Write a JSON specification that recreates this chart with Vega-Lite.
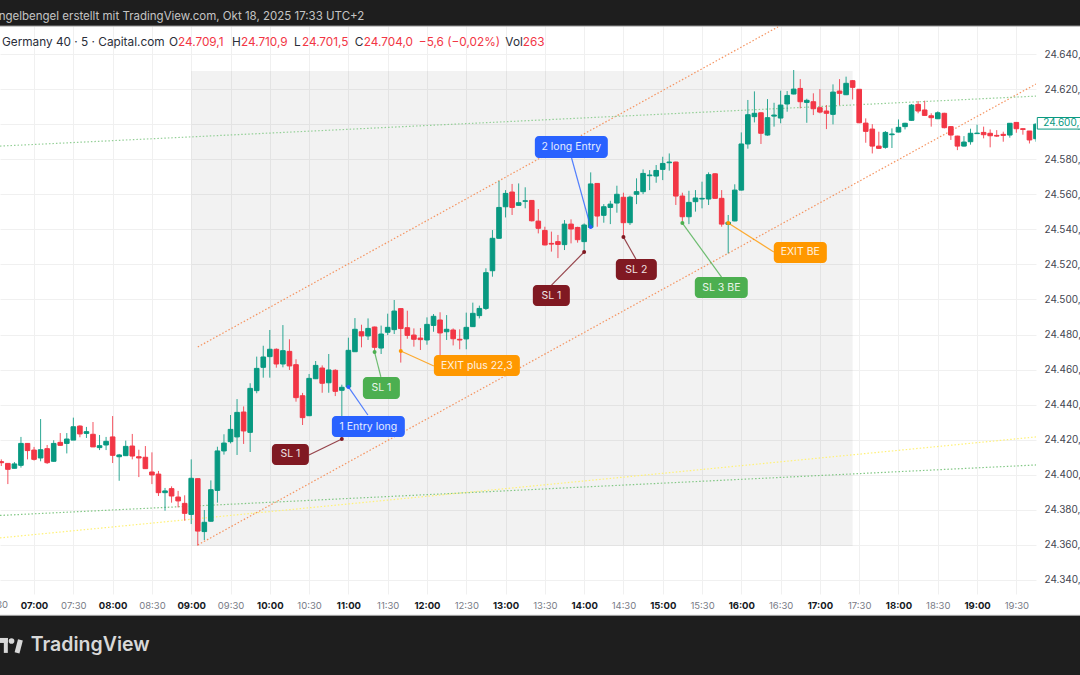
{
  "$schema": "https://vega.github.io/schema/vega-lite/v6.json",
  "width": 1036,
  "height": 568,
  "autosize": "none",
  "padding": {"left": 0, "top": 26, "right": 44, "bottom": 81},
  "background": "#ffffff",
  "config": {"view": {"stroke": null}, "font": "Inter"},
  "resolve": {"axis": {"x": "independent", "y": "independent"}},
  "datasets": {
    "candles": [
      {"time":"2025-10-17T06:35:00Z","open":24407.5,"high":24408.8,"low":24405.0,"close":24406.9},
      {"time":"2025-10-17T06:40:00Z","open":24406.5,"high":24406.5,"low":24394.7,"close":24403.1},
      {"time":"2025-10-17T06:45:00Z","open":24403.7,"high":24407.3,"low":24403.7,"close":24406.2},
      {"time":"2025-10-17T06:50:00Z","open":24405.4,"high":24421.6,"low":24404.1,"close":24417.9},
      {"time":"2025-10-17T06:55:00Z","open":24417.9,"high":24417.9,"low":24408.8,"close":24413.8},
      {"time":"2025-10-17T07:00:00Z","open":24414.1,"high":24415.9,"low":24408.1,"close":24408.8},
      {"time":"2025-10-17T07:05:00Z","open":24409.6,"high":24431.8,"low":24407.7,"close":24414.3},
      {"time":"2025-10-17T07:10:00Z","open":24414.9,"high":24417.0,"low":24406.2,"close":24406.9},
      {"time":"2025-10-17T07:15:00Z","open":24407.7,"high":24419.7,"low":24407.5,"close":24417.9},
      {"time":"2025-10-17T07:20:00Z","open":24418.5,"high":24423.8,"low":24416.6,"close":24416.8},
      {"time":"2025-10-17T07:25:00Z","open":24417.9,"high":24423.8,"low":24412.2,"close":24420.4},
      {"time":"2025-10-17T07:30:00Z","open":24419.8,"high":24432.6,"low":24419.8,"close":24427.4},
      {"time":"2025-10-17T07:35:00Z","open":24427.8,"high":24428.2,"low":24421.4,"close":24423.3},
      {"time":"2025-10-17T07:40:00Z","open":24423.6,"high":24427.3,"low":24421.0,"close":24424.6},
      {"time":"2025-10-17T07:45:00Z","open":24423.1,"high":24430.1,"low":24415.9,"close":24415.9},
      {"time":"2025-10-17T07:50:00Z","open":24415.5,"high":24422.7,"low":24414.1,"close":24416.6},
      {"time":"2025-10-17T07:55:00Z","open":24417.0,"high":24421.6,"low":24414.1,"close":24419.1},
      {"time":"2025-10-17T08:00:00Z","open":24421.6,"high":24433.5,"low":24406.7,"close":24411.1},
      {"time":"2025-10-17T08:05:00Z","open":24410.3,"high":24411.9,"low":24396.6,"close":24411.3},
      {"time":"2025-10-17T08:10:00Z","open":24410.9,"high":24419.5,"low":24410.7,"close":24416.2},
      {"time":"2025-10-17T08:15:00Z","open":24416.4,"high":24423.3,"low":24408.8,"close":24410.7},
      {"time":"2025-10-17T08:20:00Z","open":24410.3,"high":24414.3,"low":24398.7,"close":24409.6},
      {"time":"2025-10-17T08:25:00Z","open":24410.0,"high":24416.4,"low":24403.3,"close":24403.5},
      {"time":"2025-10-17T08:30:00Z","open":24401.6,"high":24412.8,"low":24394.7,"close":24399.9},
      {"time":"2025-10-17T08:35:00Z","open":24400.4,"high":24402.2,"low":24387.9,"close":24389.8},
      {"time":"2025-10-17T08:40:00Z","open":24389.8,"high":24392.5,"low":24379.5,"close":24390.8},
      {"time":"2025-10-17T08:45:00Z","open":24392.1,"high":24393.4,"low":24384.1,"close":24387.9},
      {"time":"2025-10-17T08:50:00Z","open":24387.3,"high":24390.8,"low":24381.4,"close":24385.1},
      {"time":"2025-10-17T08:55:00Z","open":24383.7,"high":24388.3,"low":24373.8,"close":24378.0},
      {"time":"2025-10-17T09:00:00Z","open":24377.4,"high":24408.8,"low":24371.9,"close":24398.0},
      {"time":"2025-10-17T09:05:00Z","open":24397.8,"high":24397.8,"low":24359.6,"close":24367.9},
      {"time":"2025-10-17T09:10:00Z","open":24367.6,"high":24379.9,"low":24362.8,"close":24372.9},
      {"time":"2025-10-17T09:15:00Z","open":24373.5,"high":24396.8,"low":24373.3,"close":24391.5},
      {"time":"2025-10-17T09:20:00Z","open":24391.1,"high":24416.0,"low":24384.1,"close":24413.6},
      {"time":"2025-10-17T09:25:00Z","open":24413.6,"high":24423.1,"low":24411.5,"close":24418.1},
      {"time":"2025-10-17T09:30:00Z","open":24418.9,"high":24434.1,"low":24417.9,"close":24425.9},
      {"time":"2025-10-17T09:35:00Z","open":24421.6,"high":24443.2,"low":24411.3,"close":24435.6},
      {"time":"2025-10-17T09:40:00Z","open":24435.8,"high":24439.0,"low":24417.6,"close":24425.0},
      {"time":"2025-10-17T09:45:00Z","open":24424.2,"high":24452.2,"low":24413.0,"close":24449.3},
      {"time":"2025-10-17T09:50:00Z","open":24448.0,"high":24467.4,"low":24446.5,"close":24460.7},
      {"time":"2025-10-17T09:55:00Z","open":24461.3,"high":24473.6,"low":24455.4,"close":24467.2},
      {"time":"2025-10-17T10:00:00Z","open":24467.4,"high":24482.6,"low":24455.4,"close":24471.6},
      {"time":"2025-10-17T10:05:00Z","open":24471.6,"high":24472.1,"low":24461.1,"close":24463.2},
      {"time":"2025-10-17T10:10:00Z","open":24463.2,"high":24485.4,"low":24461.3,"close":24470.8},
      {"time":"2025-10-17T10:15:00Z","open":24470.4,"high":24477.3,"low":24459.8,"close":24462.1},
      {"time":"2025-10-17T10:20:00Z","open":24462.8,"high":24465.9,"low":24441.7,"close":24444.0},
      {"time":"2025-10-17T10:25:00Z","open":24445.1,"high":24446.7,"low":24428.4,"close":24432.6},
      {"time":"2025-10-17T10:30:00Z","open":24433.7,"high":24457.5,"low":24433.5,"close":24455.0},
      {"time":"2025-10-17T10:35:00Z","open":24454.8,"high":24464.9,"low":24454.6,"close":24462.4},
      {"time":"2025-10-17T10:40:00Z","open":24460.9,"high":24462.4,"low":24446.8,"close":24452.2},
      {"time":"2025-10-17T10:45:00Z","open":24452.5,"high":24468.9,"low":24446.8,"close":24459.8},
      {"time":"2025-10-17T10:50:00Z","open":24459.6,"high":24460.2,"low":24444.9,"close":24447.6},
      {"time":"2025-10-17T10:55:00Z","open":24448.2,"high":24451.4,"low":24420.4,"close":24449.9},
      {"time":"2025-10-17T11:00:00Z","open":24450.1,"high":24478.2,"low":24449.9,"close":24471.0},
      {"time":"2025-10-17T11:05:00Z","open":24470.2,"high":24489.4,"low":24470.2,"close":24483.0},
      {"time":"2025-10-17T11:10:00Z","open":24481.6,"high":24485.6,"low":24472.7,"close":24479.2},
      {"time":"2025-10-17T11:15:00Z","open":24479.2,"high":24489.2,"low":24476.9,"close":24483.5},
      {"time":"2025-10-17T11:20:00Z","open":24484.3,"high":24484.5,"low":24469.7,"close":24472.7},
      {"time":"2025-10-17T11:25:00Z","open":24472.3,"high":24485.1,"low":24468.9,"close":24480.3},
      {"time":"2025-10-17T11:30:00Z","open":24481.3,"high":24491.9,"low":24479.7,"close":24484.1},
      {"time":"2025-10-17T11:35:00Z","open":24482.8,"high":24499.7,"low":24480.3,"close":24493.4},
      {"time":"2025-10-17T11:40:00Z","open":24494.8,"high":24494.8,"low":24464.0,"close":24483.4},
      {"time":"2025-10-17T11:45:00Z","open":24483.9,"high":24493.6,"low":24477.6,"close":24479.5},
      {"time":"2025-10-17T11:50:00Z","open":24479.7,"high":24483.5,"low":24473.1,"close":24477.3},
      {"time":"2025-10-17T11:55:00Z","open":24478.0,"high":24483.7,"low":24471.2,"close":24477.1},
      {"time":"2025-10-17T12:00:00Z","open":24476.9,"high":24489.8,"low":24474.2,"close":24485.8},
      {"time":"2025-10-17T12:05:00Z","open":24485.2,"high":24491.7,"low":24481.6,"close":24490.4},
      {"time":"2025-10-17T12:10:00Z","open":24488.3,"high":24492.7,"low":24466.4,"close":24480.9},
      {"time":"2025-10-17T12:15:00Z","open":24481.6,"high":24491.1,"low":24476.9,"close":24483.0},
      {"time":"2025-10-17T12:20:00Z","open":24482.6,"high":24483.5,"low":24473.8,"close":24477.6},
      {"time":"2025-10-17T12:25:00Z","open":24477.3,"high":24483.0,"low":24471.6,"close":24476.9},
      {"time":"2025-10-17T12:30:00Z","open":24477.5,"high":24492.5,"low":24471.6,"close":24484.1},
      {"time":"2025-10-17T12:35:00Z","open":24484.5,"high":24498.2,"low":24484.3,"close":24492.1},
      {"time":"2025-10-17T12:40:00Z","open":24490.8,"high":24496.5,"low":24489.2,"close":24494.9},
      {"time":"2025-10-17T12:45:00Z","open":24494.9,"high":24517.8,"low":24494.0,"close":24515.3},
      {"time":"2025-10-17T12:50:00Z","open":24516.4,"high":24539.6,"low":24513.0,"close":24534.9},
      {"time":"2025-10-17T12:55:00Z","open":24534.9,"high":24567.6,"low":24534.7,"close":24552.5},
      {"time":"2025-10-17T13:00:00Z","open":24552.9,"high":24562.4,"low":24546.8,"close":24560.5},
      {"time":"2025-10-17T13:05:00Z","open":24561.3,"high":24565.9,"low":24548.2,"close":24552.5},
      {"time":"2025-10-17T13:10:00Z","open":24553.7,"high":24566.2,"low":24553.5,"close":24555.2},
      {"time":"2025-10-17T13:15:00Z","open":24556.0,"high":24564.0,"low":24552.0,"close":24556.3},
      {"time":"2025-10-17T13:20:00Z","open":24556.5,"high":24556.7,"low":24544.5,"close":24544.9},
      {"time":"2025-10-17T13:25:00Z","open":24544.7,"high":24551.6,"low":24537.7,"close":24540.6},
      {"time":"2025-10-17T13:30:00Z","open":24539.4,"high":24541.5,"low":24530.9,"close":24531.1},
      {"time":"2025-10-17T13:35:00Z","open":24532.0,"high":24538.7,"low":24527.3,"close":24531.6},
      {"time":"2025-10-17T13:40:00Z","open":24533.0,"high":24536.8,"low":24523.6,"close":24531.4},
      {"time":"2025-10-17T13:45:00Z","open":24531.3,"high":24545.3,"low":24528.2,"close":24543.0},
      {"time":"2025-10-17T13:50:00Z","open":24543.0,"high":24545.7,"low":24532.0,"close":24540.2},
      {"time":"2025-10-17T13:55:00Z","open":24541.1,"high":24541.5,"low":24532.4,"close":24534.1},
      {"time":"2025-10-17T14:00:00Z","open":24533.0,"high":24543.4,"low":24527.1,"close":24542.5},
      {"time":"2025-10-17T14:05:00Z","open":24541.1,"high":24572.5,"low":24540.9,"close":24565.9},
      {"time":"2025-10-17T14:10:00Z","open":24566.2,"high":24566.2,"low":24541.5,"close":24547.6},
      {"time":"2025-10-17T14:15:00Z","open":24548.0,"high":24554.4,"low":24543.8,"close":24552.9},
      {"time":"2025-10-17T14:20:00Z","open":24552.5,"high":24556.3,"low":24543.0,"close":24554.4},
      {"time":"2025-10-17T14:25:00Z","open":24555.0,"high":24564.9,"low":24549.5,"close":24560.0},
      {"time":"2025-10-17T14:30:00Z","open":24558.3,"high":24560.9,"low":24535.8,"close":24543.8},
      {"time":"2025-10-17T14:35:00Z","open":24543.8,"high":24559.2,"low":24542.5,"close":24558.4},
      {"time":"2025-10-17T14:40:00Z","open":24560.0,"high":24569.1,"low":24554.4,"close":24561.5},
      {"time":"2025-10-17T14:45:00Z","open":24561.5,"high":24574.2,"low":24560.1,"close":24571.9},
      {"time":"2025-10-17T14:50:00Z","open":24570.6,"high":24573.8,"low":24562.4,"close":24571.0},
      {"time":"2025-10-17T14:55:00Z","open":24570.4,"high":24576.7,"low":24566.6,"close":24573.6},
      {"time":"2025-10-17T15:00:00Z","open":24574.2,"high":24581.4,"low":24568.1,"close":24577.6},
      {"time":"2025-10-17T15:05:00Z","open":24578.0,"high":24583.3,"low":24573.5,"close":24578.4},
      {"time":"2025-10-17T15:10:00Z","open":24578.4,"high":24578.6,"low":24553.9,"close":24559.0},
      {"time":"2025-10-17T15:15:00Z","open":24559.0,"high":24560.9,"low":24543.8,"close":24547.2},
      {"time":"2025-10-17T15:20:00Z","open":24547.2,"high":24562.0,"low":24543.0,"close":24555.4},
      {"time":"2025-10-17T15:25:00Z","open":24555.8,"high":24562.4,"low":24550.1,"close":24557.9},
      {"time":"2025-10-17T15:30:00Z","open":24557.3,"high":24567.2,"low":24552.0,"close":24557.7},
      {"time":"2025-10-17T15:35:00Z","open":24557.3,"high":24572.5,"low":24553.9,"close":24571.2},
      {"time":"2025-10-17T15:40:00Z","open":24571.7,"high":24572.0,"low":24557.5,"close":24557.7},
      {"time":"2025-10-17T15:45:00Z","open":24557.7,"high":24562.4,"low":24541.5,"close":24543.0},
      {"time":"2025-10-17T15:50:00Z","open":24542.9,"high":24548.2,"low":24526.3,"close":24544.0},
      {"time":"2025-10-17T15:55:00Z","open":24544.8,"high":24565.7,"low":24544.6,"close":24562.4},
      {"time":"2025-10-17T16:00:00Z","open":24562.4,"high":24595.3,"low":24562.2,"close":24588.7},
      {"time":"2025-10-17T16:05:00Z","open":24588.7,"high":24613.8,"low":24586.0,"close":24605.4},
      {"time":"2025-10-17T16:10:00Z","open":24604.3,"high":24618.7,"low":24601.0,"close":24606.2},
      {"time":"2025-10-17T16:15:00Z","open":24606.5,"high":24606.7,"low":24588.7,"close":24594.8},
      {"time":"2025-10-17T16:20:00Z","open":24593.8,"high":24614.3,"low":24593.4,"close":24603.7},
      {"time":"2025-10-17T16:25:00Z","open":24604.6,"high":24612.2,"low":24598.6,"close":24605.2},
      {"time":"2025-10-17T16:30:00Z","open":24603.5,"high":24619.1,"low":24600.5,"close":24610.9},
      {"time":"2025-10-17T16:35:00Z","open":24611.5,"high":24618.9,"low":24607.1,"close":24616.4},
      {"time":"2025-10-17T16:40:00Z","open":24617.2,"high":24630.9,"low":24617.0,"close":24620.0},
      {"time":"2025-10-17T16:45:00Z","open":24620.4,"high":24625.7,"low":24609.0,"close":24612.8},
      {"time":"2025-10-17T16:50:00Z","open":24612.4,"high":24614.5,"low":24600.8,"close":24613.6},
      {"time":"2025-10-17T16:55:00Z","open":24612.8,"high":24617.6,"low":24605.2,"close":24608.8},
      {"time":"2025-10-17T17:00:00Z","open":24609.4,"high":24620.0,"low":24606.2,"close":24606.9},
      {"time":"2025-10-17T17:05:00Z","open":24607.5,"high":24610.9,"low":24597.2,"close":24606.2},
      {"time":"2025-10-17T17:10:00Z","open":24605.6,"high":24622.7,"low":24599.9,"close":24618.3},
      {"time":"2025-10-17T17:15:00Z","open":24618.9,"high":24625.7,"low":24610.9,"close":24617.6},
      {"time":"2025-10-17T17:20:00Z","open":24616.8,"high":24627.1,"low":24616.6,"close":24623.3},
      {"time":"2025-10-17T17:25:00Z","open":24624.8,"high":24625.2,"low":24614.1,"close":24621.0},
      {"time":"2025-10-17T17:30:00Z","open":24619.9,"high":24619.9,"low":24600.6,"close":24600.8},
      {"time":"2025-10-17T17:35:00Z","open":24600.6,"high":24603.3,"low":24589.4,"close":24595.9},
      {"time":"2025-10-17T17:40:00Z","open":24597.2,"high":24600.0,"low":24583.3,"close":24587.5},
      {"time":"2025-10-17T17:45:00Z","open":24587.5,"high":24595.7,"low":24586.0,"close":24586.2},
      {"time":"2025-10-17T17:50:00Z","open":24586.8,"high":24596.1,"low":24586.0,"close":24595.3},
      {"time":"2025-10-17T17:55:00Z","open":24594.0,"high":24597.6,"low":24586.4,"close":24594.4},
      {"time":"2025-10-17T18:00:00Z","open":24595.5,"high":24602.7,"low":24595.3,"close":24598.2},
      {"time":"2025-10-17T18:05:00Z","open":24598.6,"high":24600.8,"low":24597.0,"close":24600.5},
      {"time":"2025-10-17T18:10:00Z","open":24602.2,"high":24611.5,"low":24602.0,"close":24610.9},
      {"time":"2025-10-17T18:15:00Z","open":24611.3,"high":24613.2,"low":24606.2,"close":24607.5},
      {"time":"2025-10-17T18:20:00Z","open":24608.1,"high":24613.4,"low":24604.8,"close":24605.0},
      {"time":"2025-10-17T18:25:00Z","open":24604.8,"high":24606.2,"low":24598.6,"close":24603.7},
      {"time":"2025-10-17T18:30:00Z","open":24603.1,"high":24607.3,"low":24602.9,"close":24606.5},
      {"time":"2025-10-17T18:35:00Z","open":24606.2,"high":24606.5,"low":24597.6,"close":24598.0},
      {"time":"2025-10-17T18:40:00Z","open":24598.6,"high":24598.9,"low":24591.0,"close":24593.8},
      {"time":"2025-10-17T18:45:00Z","open":24593.2,"high":24593.4,"low":24585.2,"close":24587.5},
      {"time":"2025-10-17T18:50:00Z","open":24587.5,"high":24593.2,"low":24587.3,"close":24589.8},
      {"time":"2025-10-17T18:55:00Z","open":24590.0,"high":24597.4,"low":24588.3,"close":24594.8},
      {"time":"2025-10-17T19:00:00Z","open":24594.6,"high":24599.7,"low":24594.4,"close":24594.9},
      {"time":"2025-10-17T19:05:00Z","open":24595.3,"high":24598.6,"low":24591.9,"close":24594.0},
      {"time":"2025-10-17T19:10:00Z","open":24594.8,"high":24597.0,"low":24586.8,"close":24593.4},
      {"time":"2025-10-17T19:15:00Z","open":24593.6,"high":24596.6,"low":24592.8,"close":24593.2},
      {"time":"2025-10-17T19:20:00Z","open":24594.2,"high":24595.7,"low":24590.0,"close":24593.6},
      {"time":"2025-10-17T19:25:00Z","open":24593.8,"high":24600.6,"low":24592.3,"close":24600.5},
      {"time":"2025-10-17T19:30:00Z","open":24601.0,"high":24601.2,"low":24595.1,"close":24597.4},
      {"time":"2025-10-17T19:35:00Z","open":24597.4,"high":24597.6,"low":24594.0,"close":24597.0},
      {"time":"2025-10-17T19:40:00Z","open":24596.1,"high":24596.1,"low":24589.0,"close":24591.0},
      {"time":"2025-10-17T19:45:00Z","open":24591.7,"high":24600.5,"low":24590.0,"close":24600.0}
    ],
    "lines": [
      {"name":"channel top","time":"2025-10-17T09:05:00Z","price":24472.9},
      {"name":"channel top","time":"2025-10-17T16:28:00Z","price":24655.5},
      {"name":"channel bottom","time":"2025-10-17T09:05:00Z","price":24360.0},
      {"name":"channel bottom","time":"2025-10-17T19:45:00Z","price":24622.9},
      {"name":"green upper","time":"2025-10-17T06:34:00Z","price":24587.5},
      {"name":"green upper","time":"2025-10-17T19:45:00Z","price":24616.0},
      {"name":"green lower","time":"2025-10-17T06:34:00Z","price":24376.8},
      {"name":"green lower","time":"2025-10-17T19:45:00Z","price":24405.6},
      {"name":"yellow","time":"2025-10-17T06:34:00Z","price":24364.0},
      {"name":"yellow","time":"2025-10-17T19:45:00Z","price":24421.6}
    ],
    "notes": [
      {"label":"SL 1","kind":"loss","fromTime":"2025-10-17T10:29:51Z","fromPrice":24411.3,"toTime":"2025-10-17T10:55:00Z","toPrice":24420.4,"boxStart":"2025-10-17T10:01:36Z","boxEnd":"2025-10-17T10:29:51Z","boxLow":24405.6,"boxHigh":24417.6,"textTime":"2025-10-17T10:15:44Z","textPrice":24411.6},
      {"label":"1 Entry long","kind":"entry","fromTime":"2025-10-17T11:14:53Z","fromPrice":24434.1,"toTime":"2025-10-17T11:00:00Z","toPrice":24450.1,"boxStart":"2025-10-17T10:47:24Z","boxEnd":"2025-10-17T11:43:06Z","boxLow":24421.6,"boxHigh":24433.5,"textTime":"2025-10-17T11:15:16Z","textPrice":24427.5},
      {"label":"SL 1","kind":"stop","fromTime":"2025-10-17T11:24:48Z","fromPrice":24455.8,"toTime":"2025-10-17T11:20:00Z","toPrice":24470.0,"boxStart":"2025-10-17T11:11:04Z","boxEnd":"2025-10-17T11:39:19Z","boxLow":24443.2,"boxHigh":24455.8,"textTime":"2025-10-17T11:25:11Z","textPrice":24449.5},
      {"label":"EXIT plus 22,3","kind":"exit","fromTime":"2025-10-17T12:05:16Z","fromPrice":24462.1,"toTime":"2025-10-17T11:40:00Z","toPrice":24470.6,"boxStart":"2025-10-17T12:05:16Z","boxEnd":"2025-10-17T13:10:55Z","boxLow":24456.3,"boxHigh":24468.3,"textTime":"2025-10-17T12:38:05Z","textPrice":24462.3},
      {"label":"2 long Entry","kind":"entry","fromTime":"2025-10-17T13:50:24Z","fromPrice":24580.7,"toTime":"2025-10-17T14:05:00Z","toPrice":24541.3,"boxStart":"2025-10-17T13:22:22Z","boxEnd":"2025-10-17T14:18:05Z","boxLow":24580.7,"boxHigh":24593.2,"textTime":"2025-10-17T13:50:14Z","textPrice":24587.0},
      {"label":"SL 1","kind":"loss","fromTime":"2025-10-17T13:35:06Z","fromPrice":24508.2,"toTime":"2025-10-17T14:00:00Z","toPrice":24527.1,"boxStart":"2025-10-17T13:20:50Z","boxEnd":"2025-10-17T13:49:05Z","boxLow":24496.3,"boxHigh":24508.2,"textTime":"2025-10-17T13:35:00Z","textPrice":24502.2},
      {"label":"SL 2","kind":"loss","fromTime":"2025-10-17T14:39:30Z","fromPrice":24523.1,"toTime":"2025-10-17T14:30:00Z","toPrice":24535.6,"boxStart":"2025-10-17T14:24:12Z","boxEnd":"2025-10-17T14:55:31Z","boxLow":24511.1,"boxHigh":24523.1,"textTime":"2025-10-17T14:39:50Z","textPrice":24517.1},
      {"label":"SL 3 BE","kind":"stop","fromTime":"2025-10-17T15:44:54Z","fromPrice":24512.8,"toTime":"2025-10-17T15:15:00Z","toPrice":24543.6,"boxStart":"2025-10-17T15:24:30Z","boxEnd":"2025-10-17T16:04:56Z","boxLow":24500.8,"boxHigh":24512.8,"textTime":"2025-10-17T15:44:44Z","textPrice":24506.8},
      {"label":"EXIT BE","kind":"exit","fromTime":"2025-10-17T16:24:48Z","fromPrice":24527.1,"toTime":"2025-10-17T15:50:00Z","toPrice":24543.6,"boxStart":"2025-10-17T16:24:48Z","boxEnd":"2025-10-17T17:05:18Z","boxLow":24520.8,"boxHigh":24532.8,"textTime":"2025-10-17T16:45:00Z","textPrice":24526.8}
    ],
    "legendRow": [
      {"text":"Germany 40 · 5 · Capital.com","tone":"dark","time":"2025-10-17T06:35:30Z"},
      {"text":"O","tone":"dark","time":"2025-10-17T08:43:00Z"},
      {"text":"24.709,1","tone":"red","time":"2025-10-17T08:49:51Z"},
      {"text":"H","tone":"dark","time":"2025-10-17T09:31:04Z"},
      {"text":"24.710,9","tone":"red","time":"2025-10-17T09:37:57Z"},
      {"text":"L","tone":"dark","time":"2025-10-17T10:18:24Z"},
      {"text":"24.701,5","tone":"red","time":"2025-10-17T10:24:30Z"},
      {"text":"C","tone":"dark","time":"2025-10-17T11:04:54Z"},
      {"text":"24.704,0","tone":"red","time":"2025-10-17T11:11:48Z"},
      {"text":"−5,6 (−0,02%)","tone":"red","time":"2025-10-17T11:53:48Z"},
      {"text":"Vol","tone":"dark","time":"2025-10-17T12:59:50Z"},
      {"text":"263","tone":"red","time":"2025-10-17T13:13:12Z"}
    ]
  },
  "layer": [
    {
      "data": {"values": [
        {"start":"2025-10-17T06:00:00Z","end":"2025-10-17T21:00:00Z","top":24680,"bottom":24656},
        {"start":"2025-10-17T06:00:00Z","end":"2025-10-17T21:00:00Z","top":24319.5,"bottom":24270}
      ]},
      "mark": {"type": "rect", "color": "#1e1e1e"},
      "encoding": {
        "x": {
          "field": "start",
          "type": "temporal",
          "scale": {"type": "utc", "domain": ["2025-10-17T06:34:00Z", "2025-10-17T19:45:00Z"], "padding": 0},
          "axis": {
            "title": null,
            "values": ["2025-10-17T07:00:00Z","2025-10-17T07:30:00Z","2025-10-17T08:00:00Z","2025-10-17T08:30:00Z","2025-10-17T09:00:00Z","2025-10-17T09:30:00Z","2025-10-17T10:00:00Z","2025-10-17T10:30:00Z","2025-10-17T11:00:00Z","2025-10-17T11:30:00Z","2025-10-17T12:00:00Z","2025-10-17T12:30:00Z","2025-10-17T13:00:00Z","2025-10-17T13:30:00Z","2025-10-17T14:00:00Z","2025-10-17T14:30:00Z","2025-10-17T15:00:00Z","2025-10-17T15:30:00Z","2025-10-17T16:00:00Z","2025-10-17T16:30:00Z","2025-10-17T17:00:00Z","2025-10-17T17:30:00Z","2025-10-17T18:00:00Z","2025-10-17T18:30:00Z","2025-10-17T19:00:00Z","2025-10-17T19:30:00Z"],
            "labelExpr": "utcFormat(datum.value, '%H:%M')",
            "domain": false,
            "ticks": false,
            "grid": true,
            "gridColor": "#f0f0f0",
            "gridWidth": 1,
            "labelPadding": 6,
            "labelFontSize": 9.5,
            "labelFlush": false,
            "labelBound": false,
            "labelOverlap": false,
            "labelFontWeight": {"expr": "utcminutes(datum.value) == 0 ? 'bold' : 'normal'"},
            "labelColor": {"expr": "utcminutes(datum.value) == 0 ? '#131722' : '#787b86'"}
          }
        },
        "x2": {"field": "end"},
        "y": {
          "field": "top",
          "type": "quantitative",
          "scale": {"domain": [24332, 24656], "nice": false, "zero": false},
          "axis": {
            "title": null,
            "orient": "right",
            "values": [24340,24360,24380,24400,24420,24440,24460,24480,24500,24520,24540,24560,24580,24600,24620,24640],
            "labelExpr": "slice(format(datum.value, 'd'), 0, 2) + '.' + slice(format(datum.value, 'd'), 2) + ',0'",
            "domain": false,
            "ticks": false,
            "grid": true,
            "gridColor": "#f0f0f0",
            "gridWidth": 1,
            "labelPadding": 8,
            "labelFontSize": 10,
            "labelColor": "#434651",
            "labelOverlap": false
          }
        },
        "y2": {"field": "bottom"}
      }
    },
    {
      "data": {"values": [
        {"start":"2025-10-17T06:00:00Z","end":"2025-10-17T21:00:00Z","price":24656},
        {"start":"2025-10-17T06:00:00Z","end":"2025-10-17T21:00:00Z","price":24319.8}
      ]},
      "mark": {"type": "rule", "color": "#8f8f8f", "strokeWidth": 1},
      "encoding": {
        "x": {"field": "start", "type": "temporal", "axis": null},
        "x2": {"field": "end"},
        "y": {"field": "price", "type": "quantitative", "axis": null}
      }
    },
    {
      "data": {"values": [{"start":"2025-10-17T09:00:00Z","end":"2025-10-17T17:25:00Z","top":24630.3,"bottom":24359.4}]},
      "mark": {"type": "rect", "color": "#000000", "opacity": 0.05},
      "encoding": {
        "x": {"field": "start", "type": "temporal", "axis": null},
        "x2": {"field": "end"},
        "y": {"field": "top", "type": "quantitative", "axis": null},
        "y2": {"field": "bottom"}
      }
    },
    {
      "data": {"name": "lines"},
      "mark": {"type": "line", "strokeWidth": 1.2, "strokeDash": [1.5, 2], "clip": true},
      "encoding": {
        "x": {"field": "time", "type": "temporal", "axis": null},
        "y": {"field": "price", "type": "quantitative", "axis": null},
        "color": {
          "field": "name",
          "type": "nominal",
          "legend": null,
          "scale": {
            "domain": ["channel top", "channel bottom", "green upper", "green lower", "yellow", "loss", "entry", "stop", "exit", "dark", "red"],
            "range": ["#f5935f", "#f5935f", "#93cf96", "#81c784", "#fff176", "#801922", "#2962ff", "#4caf50", "#ff9800", "#2a2e39", "#f23645"]
          }
        },
        "detail": {"field": "name"}
      }
    },
    {
      "data": {"name": "candles"},
      "mark": {"type": "rule", "strokeWidth": 1, "opacity": 0.85, "clip": true},
      "encoding": {
        "x": {"field": "time", "type": "temporal", "axis": null},
        "y": {"field": "high", "type": "quantitative", "axis": null},
        "y2": {"field": "low"},
        "color": {"condition": {"test": "datum.close >= datum.open", "value": "#089981"}, "value": "#f23645"}
      }
    },
    {
      "data": {"name": "candles"},
      "mark": {"type": "bar", "size": 4.6, "clip": true},
      "encoding": {
        "x": {"field": "time", "type": "temporal", "axis": null},
        "y": {"field": "open", "type": "quantitative", "axis": null},
        "y2": {"field": "close"},
        "color": {"condition": {"test": "datum.close >= datum.open", "value": "#089981"}, "value": "#f23645"},
        "stroke": {"condition": {"test": "datum.close >= datum.open", "value": "#089981"}, "value": "#f23645"}
      }
    },
    {
      "data": {"name": "notes"},
      "mark": {"type": "rule", "strokeWidth": 1.2, "opacity": 0.8},
      "encoding": {
        "x": {"field": "fromTime", "type": "temporal", "axis": null},
        "x2": {"field": "toTime"},
        "y": {"field": "fromPrice", "type": "quantitative", "axis": null},
        "y2": {"field": "toPrice"},
        "color": {"field": "kind", "type": "nominal", "legend": null}
      }
    },
    {
      "data": {"name": "notes"},
      "mark": {"type": "circle", "size": 16, "opacity": 1},
      "encoding": {
        "x": {"field": "toTime", "type": "temporal", "axis": null},
        "y": {"field": "toPrice", "type": "quantitative", "axis": null},
        "color": {"field": "kind", "type": "nominal", "legend": null}
      }
    },
    {
      "data": {"name": "notes"},
      "mark": {"type": "rect", "cornerRadius": 4},
      "encoding": {
        "x": {"field": "boxStart", "type": "temporal", "axis": null},
        "x2": {"field": "boxEnd"},
        "y": {"field": "boxLow", "type": "quantitative", "axis": null},
        "y2": {"field": "boxHigh"},
        "color": {"field": "kind", "type": "nominal", "legend": null}
      }
    },
    {
      "data": {"name": "notes"},
      "mark": {"type": "text", "fontSize": 10.5, "color": "#ffffff", "opacity": 0.88, "align": "center", "baseline": "middle"},
      "encoding": {
        "x": {"field": "textTime", "type": "temporal", "axis": null},
        "y": {"field": "textPrice", "type": "quantitative", "axis": null},
        "text": {"field": "label"}
      }
    },
    {
      "data": {"values": [{"start":"2025-10-17T19:46:00Z","end":"2025-10-17T20:30:00Z","top":24603.8,"bottom":24597.2}]},
      "mark": {"type": "rect", "fill": "#ffffff", "stroke": "#089981", "strokeWidth": 1},
      "encoding": {
        "x": {"field": "start", "type": "temporal", "axis": null},
        "x2": {"field": "end"},
        "y": {"field": "top", "type": "quantitative", "axis": null},
        "y2": {"field": "bottom"}
      }
    },
    {
      "data": {"values": [{"text":"24.600,5","time":"2025-10-17T19:50:30Z","price":24600.4}]},
      "mark": {"type": "text", "fontSize": 10, "color": "#089981", "align": "left", "baseline": "middle"},
      "encoding": {
        "x": {"field": "time", "type": "temporal", "axis": null},
        "y": {"field": "price", "type": "quantitative", "axis": null},
        "text": {"field": "text"}
      }
    },
    {
      "data": {"values": [{"text":"06:30","time":"2025-10-17T06:30:00Z","price":24325.7}]},
      "mark": {"type": "text", "fontSize": 9.5, "color": "#787b86", "align": "center", "baseline": "middle"},
      "encoding": {
        "x": {"field": "time", "type": "temporal", "axis": null},
        "y": {"field": "price", "type": "quantitative", "axis": null},
        "text": {"field": "text"}
      }
    },
    {
      "data": {"name": "legendRow"},
      "mark": {"type": "text", "fontSize": 11.8, "align": "left", "baseline": "middle"},
      "encoding": {
        "x": {"field": "time", "type": "temporal", "axis": null},
        "y": {"datum": 24646.6, "type": "quantitative", "axis": null},
        "text": {"field": "text"},
        "color": {"field": "tone", "type": "nominal", "legend": null}
      }
    },
    {
      "data": {"values": [{"text":"ngelbengel erstellt mit TradingView.com, Okt 18, 2025 17:33 UTC+2","time":"2025-10-17T06:33:00Z","price":24661.2}]},
      "mark": {"type": "text", "fontSize": 11.5, "color": "#c4c4c4", "align": "left", "baseline": "middle"},
      "encoding": {
        "x": {"field": "time", "type": "temporal", "axis": null},
        "y": {"field": "price", "type": "quantitative", "axis": null},
        "text": {"field": "text"}
      }
    },
    {
      "data": {"values": [{"text":"TradingView","time":"2025-10-17T06:57:30Z","price":24302.9}]},
      "mark": {"type": "text", "fontSize": 19.5, "fontWeight": 600, "color": "#d8d8d8", "align": "left", "baseline": "middle"},
      "encoding": {
        "x": {"field": "time", "type": "temporal", "axis": null},
        "y": {"field": "price", "type": "quantitative", "axis": null},
        "text": {"field": "text"}
      }
    },
    {
      "data": {"values": [
        {"part":"bar","time":"2025-10-17T06:34:00Z","time2":"2025-10-17T06:40:00Z","price":24305.5,"price2":24305.5,"w":5},
        {"part":"stem","time":"2025-10-17T06:38:27Z","time2":"2025-10-17T06:38:27Z","price":24306.9,"price2":24298.4,"w":4},
        {"part":"slash","time":"2025-10-17T06:49:36Z","time2":"2025-10-17T06:47:00Z","price":24305.8,"price2":24298.4,"w":5}
      ]},
      "mark": {"type": "rule", "color": "#d8d8d8"},
      "encoding": {
        "x": {"field": "time", "type": "temporal", "axis": null},
        "x2": {"field": "time2"},
        "y": {"field": "price", "type": "quantitative", "axis": null},
        "y2": {"field": "price2"},
        "strokeWidth": {"field": "w", "type": "quantitative", "scale": null, "legend": null}
      }
    },
    {
      "data": {"values": [{"time":"2025-10-17T06:42:48Z","price":24305.2}]},
      "mark": {"type": "circle", "size": 32, "color": "#d8d8d8", "opacity": 1},
      "encoding": {
        "x": {"field": "time", "type": "temporal", "axis": null},
        "y": {"field": "price", "type": "quantitative", "axis": null}
      }
    }
  ]
}
